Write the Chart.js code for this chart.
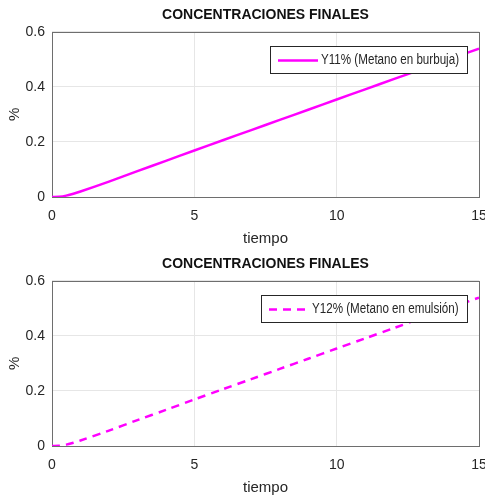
<!DOCTYPE html>
<html><head><meta charset="utf-8">
<script src="https://cdn.jsdelivr.net/npm/chart.js@4/dist/chart.umd.min.js"></script>
<style>
html,body{margin:0;padding:0;background:#fff;}
.w{position:absolute;left:0;width:485px;height:249px;}
</style></head><body>
<div class="w" style="top:0"><canvas id="c1" width="485" height="249"></canvas></div>
<div class="w" style="top:249px"><canvas id="c2" width="485" height="249"></canvas></div>
<script>
const tiempo = [0, 0.25, 0.5, 0.75, 1, 2, 3, 4, 5, 6, 7, 8, 9, 10, 11, 12, 13, 14, 15];
const y11 = [0, 0.001, 0.005, 0.012, 0.02, 0.056, 0.094, 0.131, 0.169, 0.206, 0.243, 0.280, 0.317, 0.354, 0.391, 0.428, 0.465, 0.502, 0.539];
const y12 = [0, 0.001, 0.005, 0.012, 0.02, 0.056, 0.094, 0.131, 0.169, 0.206, 0.243, 0.280, 0.317, 0.354, 0.391, 0.428, 0.465, 0.502, 0.539];
const xTicks = [0, 5, 10, 15];
const yTicks = [0, 0.2, 0.4, 0.6];
const titleText = 'CONCENTRACIONES FINALES';
const xLabel = 'tiempo';
const yLabel = '%';
const label11 = 'Y11% (Metano en burbuja)';
const label12 = 'Y12% (Metano en emulsión)';

const FONT = "'Liberation Sans', Arial, sans-serif";

const boxLegend = {
  id: 'boxLegend',
  afterDatasetsDraw(chart) {
    const ctx = chart.ctx, a = chart.chartArea;
    const ds = chart.data.datasets[0];
    ctx.save();
    ctx.font = '14px ' + FONT;
    const sx = 0.83;
    const tw = ctx.measureText(ds.label).width * sx;
    const lineLen = 40, gap = 3, padL = 8, padR = 8;
    const w = Math.round(padL + lineLen + gap + tw + padR);
    const h = 27;
    const x0 = Math.round(a.right - 12 - w), y0 = Math.round(a.top + 14);
    ctx.fillStyle = '#fff';
    ctx.fillRect(x0, y0, w, h);
    ctx.strokeStyle = '#262626';
    ctx.lineWidth = 1;
    ctx.strokeRect(x0 + 0.5, y0 + 0.5, w, h);
    ctx.strokeStyle = ds.borderColor;
    ctx.lineWidth = ds.borderWidth;
    ctx.setLineDash(ds.borderDash || []);
    ctx.beginPath();
    ctx.moveTo(x0 + padL, y0 + h / 2 + 1);
    ctx.lineTo(x0 + padL + lineLen, y0 + h / 2 + 1);
    ctx.stroke();
    ctx.setLineDash([]);
    ctx.fillStyle = '#262626';
    ctx.textBaseline = 'middle';
    ctx.translate(x0 + padL + lineLen + gap, y0 + h / 2 + 1);
    ctx.scale(sx, 1);
    ctx.fillText(ds.label, 0, 0);
    ctx.restore();
  }
};
const frame = {
  id: 'frame',
  beforeDatasetsDraw(chart) {
    const ctx = chart.ctx, a = chart.chartArea;
    ctx.save();
    ctx.strokeStyle = '#6e6e6e';
    ctx.lineWidth = 1;
    ctx.strokeRect(Math.round(a.left) + 0.5, Math.round(a.top) + 0.5, Math.round(a.right - a.left), Math.round(a.bottom - a.top));
    ctx.restore();
  }
};

function make(id, values, label, dash) {
  const pts = tiempo.map((t, i) => ({x: t, y: values[i]}));
  return new Chart(document.getElementById(id), {
    type: 'line',
    data: { datasets: [{ label, data: pts, borderColor: '#ff00ff', borderWidth: 2.5, borderDash: dash, pointRadius: 0, tension: 0.3, fill: false }] },
    options: {
      responsive: false, animation: false, events: [],
      layout: { padding: { right: 6, top: 0, left: 0, bottom: 0 } },
      plugins: {
        legend: { display: false }, tooltip: { enabled: false },
        title: { display: true, fullSize: false, text: titleText, color: '#111', font: { family: FONT, size: 14, weight: 'bold', lineHeight: 1.2 }, padding: { top: 7, bottom: 8 } }
      },
      scales: {
        x: {
          type: 'linear', min: 0, max: 15,
          afterBuildTicks(s) { s.ticks = xTicks.map(v => ({value: v})); },
          afterFit(s) { s.height = 52; s.paddingLeft = 0; s.paddingRight = 0; },
          grid: { color: '#e6e6e6', drawTicks: false },
          border: { display: false },
          ticks: { color: '#262626', font: { family: FONT, size: 14 }, padding: 11, maxRotation: 0 },
          title: { display: true, text: xLabel, color: '#262626', font: { family: FONT, size: 15 }, padding: { top: 0, bottom: 1 } }
        },
        y: {
          type: 'linear', min: 0, max: 0.6,
          afterBuildTicks(s) { s.ticks = yTicks.map(v => ({value: v})); },
          afterFit(s) { s.width = 52; s.paddingTop = 0; s.paddingBottom = 0; },
          grid: { color: '#e6e6e6', drawTicks: false },
          border: { display: false },
          ticks: { color: '#262626', font: { family: FONT, size: 14 }, padding: 7, callback: v => String(Math.round(v * 10) / 10) },
          title: { display: true, text: yLabel, color: '#262626', font: { family: FONT, size: 15 }, padding: { top: 6, bottom: 0 } }
        }
      }
    },
    plugins: [frame, boxLegend]
  });
}
make('c1', y11, label11, []);
make('c2', y12, label12, [8, 6]);
</script>
</body></html>
